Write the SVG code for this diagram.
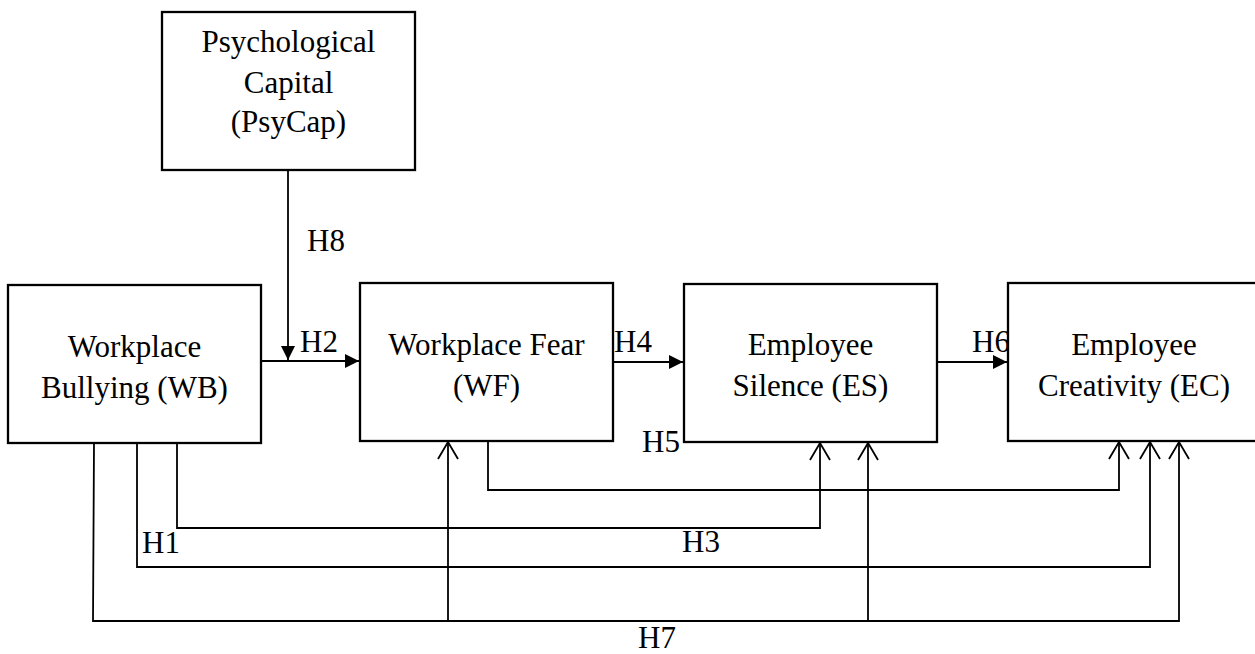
<svg xmlns="http://www.w3.org/2000/svg" width="1255" height="654" viewBox="0 0 1255 654">
<style>
.box{fill:#fff;stroke:#000;stroke-width:2.3}
.t{font-family:"Liberation Serif","Times New Roman",serif;font-size:31px;fill:#000}
.c{text-anchor:middle}
.ln{fill:none;stroke:#000;stroke-width:1.8}
</style>
<defs>
<marker id="filled" markerUnits="userSpaceOnUse" orient="auto" markerWidth="20" markerHeight="20" refX="0" refY="0" overflow="visible">
<path d="M-14,-7 L0,0 L-14,7 Z" fill="#000"/>
</marker>
<marker id="open" markerUnits="userSpaceOnUse" orient="auto" markerWidth="24" markerHeight="24" refX="0" refY="0" overflow="visible">
<path d="M-17,-10 L0,0 L-17,10" fill="none" stroke="#000" stroke-width="1.8"/>
</marker>
</defs>
<rect width="1255" height="654" fill="#fff"/>
<g id="connectors">
<path class="ln" d="M288,170 L288,360" marker-end="url(#filled)"/>
<path class="ln" d="M261,361 L359,361" marker-end="url(#filled)"/>
<path class="ln" d="M613,362 L683,362" marker-end="url(#filled)"/>
<path class="ln" d="M937,362 L1007,362" marker-end="url(#filled)"/>
<path class="ln" d="M177,443 L177,528 L820,528 L820,443" marker-end="url(#open)"/>
<path class="ln" d="M137,443 L137,567 L1150,567 L1150,442" marker-end="url(#open)"/>
<path class="ln" d="M94,443 L93,621 L1179,621 L1179,442" marker-end="url(#open)"/>
<path class="ln" d="M448,621 L448,442" marker-end="url(#open)"/>
<path class="ln" d="M868,621 L868,443" marker-end="url(#open)"/>
<path class="ln" d="M488,441 L488,490 L1119,490 L1119,442" marker-end="url(#open)"/>
<text class="t" x="307" y="251">H8</text>
<text class="t" x="300" y="352">H2</text>
<text class="t" x="614" y="352">H4</text>
<text class="t" x="642" y="452">H5</text>
<text class="t" x="972" y="352">H6</text>
<text class="t" x="142" y="553">H1</text>
<text class="t" x="682" y="552">H3</text>
<text class="t" x="638" y="648">H7</text>
</g>
<g id="psycap">
<rect class="box" x="162" y="12" width="253" height="158"/>
<text class="t c" x="288.5" y="52">Psychological</text>
<text class="t c" x="288.5" y="93">Capital</text>
<text class="t c" x="288.5" y="132">(PsyCap)</text>
</g>
<g id="wb">
<rect class="box" x="8" y="285" width="253" height="158"/>
<text class="t c" x="134.5" y="357">Workplace</text>
<text class="t c" x="134.5" y="398">Bullying (WB)</text>
</g>
<g id="wf">
<rect class="box" x="360" y="283" width="253" height="158"/>
<text class="t c" x="486.5" y="355">Workplace Fear</text>
<text class="t c" x="486.5" y="396">(WF)</text>
</g>
<g id="es">
<rect class="box" x="684" y="284" width="253" height="158"/>
<text class="t c" x="810.5" y="355">Employee</text>
<text class="t c" x="810.5" y="396">Silence (ES)</text>
</g>
<g id="ec">
<rect class="box" x="1008" y="283" width="252" height="158"/>
<text class="t c" x="1134" y="355">Employee</text>
<text class="t c" x="1134" y="396">Creativity (EC)</text>
</g>
</svg>
